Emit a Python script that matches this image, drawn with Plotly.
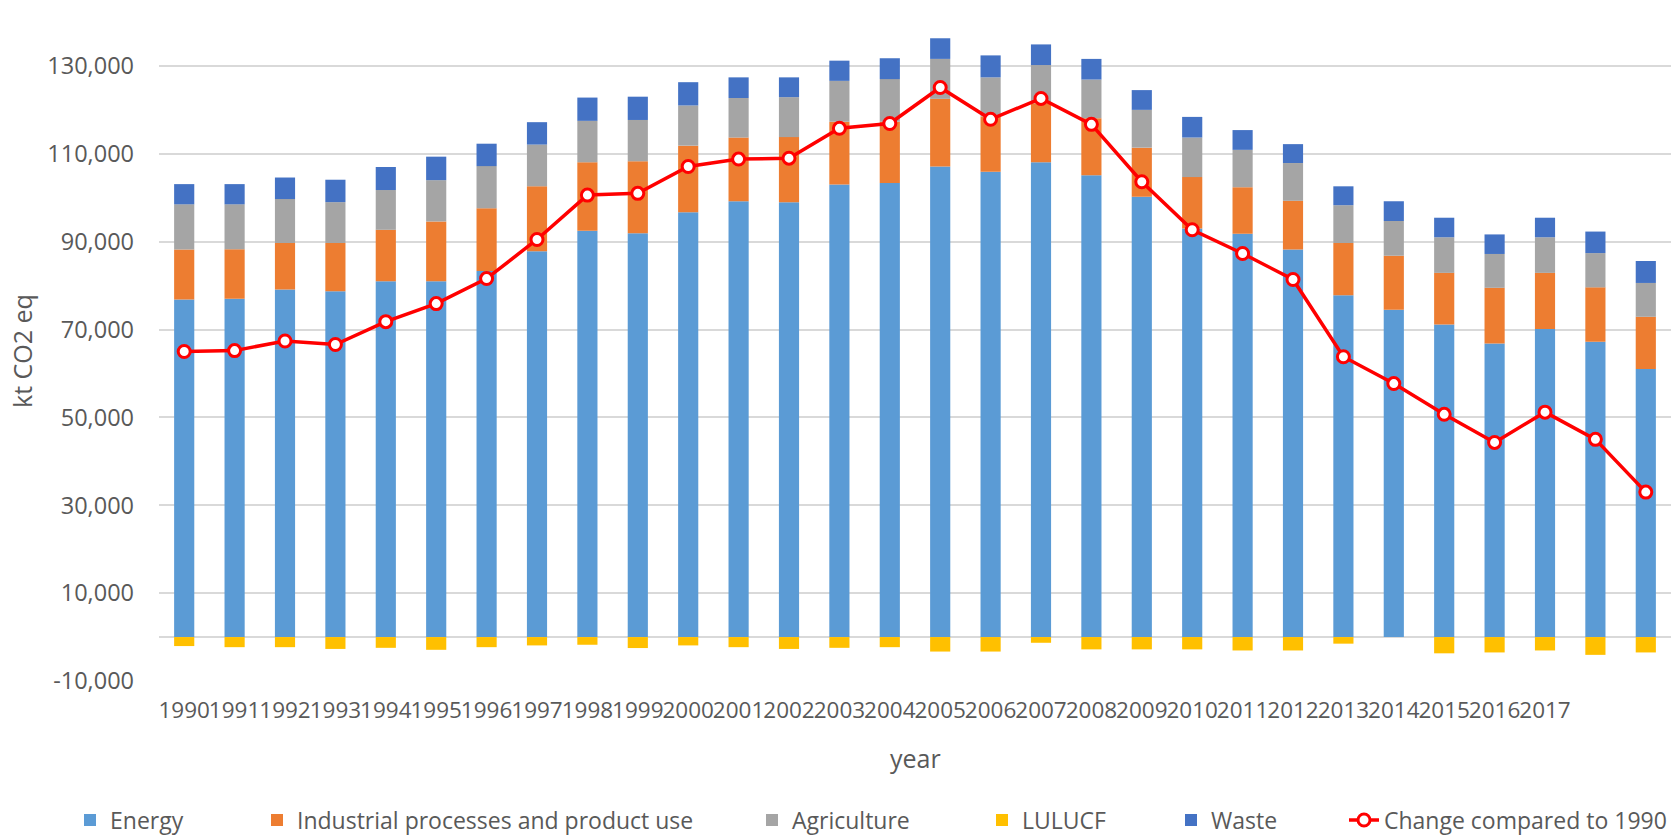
import plotly.graph_objects as go

years = list(range(1990, 2020))
tick_years = list(range(1990, 2018))

energy = [76850, 77000, 79100, 78700, 81000, 81000, 83300, 87800, 92500, 91900,
          96700, 99200, 99000, 103000, 103350, 107100, 105900, 108100, 105100, 100200,
          93000, 91800, 88200, 77800, 74500, 71150, 66800, 70100, 67200, 61000]
industrial = [11350, 11300, 10600, 11000, 11700, 13600, 14300, 14800, 15600, 16400,
              15150, 14500, 14800, 14300, 13950, 15400, 12600, 13400, 13000, 11200,
              11700, 10600, 11100, 11900, 12300, 11750, 12700, 12800, 12400, 11900]
agriculture = [10300, 10200, 10000, 9300, 9050, 9400, 9600, 9500, 9400, 9400,
               9150, 9000, 9100, 9300, 9700, 9100, 8900, 8700, 8800, 8600,
               9000, 8500, 8600, 8600, 7900, 8100, 7700, 8100, 7800, 7700]
lulucf = [-2050, -2300, -2300, -2700, -2450, -2900, -2300, -1900, -1750, -2500,
          -1900, -2300, -2700, -2450, -2300, -3300, -3300, -1300, -2800, -2800,
          -2800, -3050, -3050, -1500, 0, -3700, -3500, -3050, -4050, -3500]
waste = [4600, 4600, 4900, 5100, 5250, 5350, 5100, 5100, 5300, 5300,
         5300, 4700, 4500, 4600, 4750, 4700, 5000, 4700, 4700, 4500,
         4700, 4500, 4300, 4300, 4500, 4450, 4450, 4450, 4900, 5000]
change_1990 = [65000, 65200, 67400, 66600, 71800, 75900, 81600, 90500, 100600, 101000,
               107100, 108800, 109000, 115800, 116900, 125100, 117850, 122600, 116700, 103650,
               92700, 87300, 81400, 63800, 57700, 50700, 44300, 51200, 45000, 33000]

y_tickvals = [-10000, 10000, 30000, 50000, 70000, 90000, 110000, 130000]
y_ticktext = ["-10,000", "10,000", "30,000", "50,000", "70,000", "90,000", "110,000", "130,000"]

FONT = "Open Sans"
GREY = "#595959"

fig = go.Figure()
series = [
    ("Energy", energy, "#5B9BD5", "legend"),
    ("Industrial processes and product use", industrial, "#ED7D31", "legend2"),
    ("Agriculture", agriculture, "#A5A5A5", "legend3"),
    ("LULUCF", lulucf, "#FFC000", "legend4"),
    ("Waste", waste, "#4472C4", "legend5"),
]
for name, vals, col, lg in series:
    fig.add_trace(go.Bar(x=years, y=vals, name=name, marker=dict(color=col, line=dict(width=0)),
                         legend=lg))

fig.add_trace(go.Scatter(x=years, y=change_1990, name="Change compared to 1990",
                         mode="lines+markers",
                         line=dict(color="#FF0000", width=3.5),
                         marker=dict(symbol="circle", size=12, color="white",
                                     line=dict(color="#FF0000", width=3)),
                         legend="legend6"))

L, R, T, B = 159, 4, 22, 155
W, H = 1675, 836
pw = W - L - R
ph = H - T - B

def px_x(px):
    return (px - L) / pw

def px_y(py):
    return (H - B - py) / ph

leg_y = px_y(820)
text_starts = [110, 297, 792, 1022, 1211, 1384]
legend_layouts = {}
for i, ts in enumerate(text_starts):
    key = "legend" if i == 0 else f"legend{i+1}"
    legend_layouts[key] = dict(x=px_x(ts - 40), y=leg_y, xanchor="left", yanchor="middle",
                               orientation="h", bgcolor="rgba(0,0,0,0)",
                               font=dict(family=FONT, size=23, color=GREY))

fig.update_layout(
    width=W, height=H,
    margin=dict(l=L, r=R, t=T, b=B, autoexpand=False),
    barmode="relative",
    bargap=0.6,
    plot_bgcolor="white",
    paper_bgcolor="white",
    font=dict(family=FONT, size=22, color=GREY),
    xaxis=dict(range=[1989.5, 2019.5], tickmode="array", tickvals=tick_years,
               ticktext=[str(y) for y in tick_years], tickangle=0,
               showgrid=False, zeroline=False, showline=False, ticks="",
               ticklabelstandoff=13, automargin=False,
               tickfont=dict(family=FONT, size=22.5, color=GREY)),
    yaxis=dict(range=[-10000, 140000], tickmode="array", tickvals=y_tickvals,
               ticktext=y_ticktext, showgrid=True, gridcolor="#D9D9D9", gridwidth=2,
               zeroline=True, zerolinecolor="#D9D9D9", zerolinewidth=2,
               showline=False, ticks="", ticklabelstandoff=24, automargin=False,
               tickfont=dict(family=FONT, size=23.5, color=GREY)),
    showlegend=True,
    annotations=[
        dict(text="kt CO2 eq", x=px_x(22), y=px_y(351), xref="paper", yref="paper",
             textangle=-90, showarrow=False, xanchor="center", yanchor="middle",
             font=dict(family=FONT, size=25, color=GREY)),
        dict(text="year", x=px_x(915), y=px_y(758), xref="paper", yref="paper",
             showarrow=False, xanchor="center", yanchor="middle",
             font=dict(family=FONT, size=25, color=GREY)),
    ],
    **legend_layouts,
)

fig.write_html("out.html")
